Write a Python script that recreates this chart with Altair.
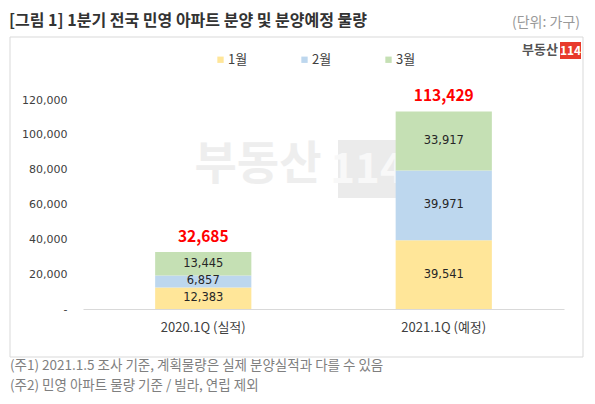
import altair as alt
import pandas as pd

FONT = "Noto Sans CJK KR"
NUM_FONT = "DejaVu Sans"

months = ["1월", "2월", "3월"]
quarters = ["2020.1Q (실적)", "2021.1Q (예정)"]
values_2020 = [12383, 6857, 13445]
values_2021 = [39541, 39971, 33917]
colors = ["#FFE699", "#BDD7EE", "#C5E0B4"]
y_ticks = [0, 20000, 40000, 60000, 80000, 100000, 120000]

title_text = "[그림 1] 1분기 전국 민영 아파트 분양 및 분양예정 물량"
unit_text = "(단위: 가구)"
notes = [
    "(주1) 2021.1.5 조사 기준, 계획물량은 실제 분양실적과 다를 수 있음",
    "(주2) 민영 아파트 물량 기준 / 빌라, 연립 제외",
]

rows = []
for q, vals in zip(quarters, [values_2020, values_2021]):
    for i, (m, v) in enumerate(zip(months, vals)):
        rows.append({"quarter": q, "month": m, "m_idx": i, "value": v})
df = pd.DataFrame(rows)

one = pd.DataFrame({"k": [0]})


def label(text, x, y, size=12, color="#333333", weight="normal", align="left", font=FONT):
    return alt.Chart(one).mark_text(
        text=text, font=font, fontSize=size, color=color, fontWeight=weight,
        align=align, baseline="middle"
    ).encode(x=alt.value(x), y=alt.value(y))


def box(x, x2, y, y2, fill, stroke=None):
    kw = {"fill": fill}
    if stroke:
        kw.update(stroke=stroke, strokeWidth=1)
    return alt.Chart(one).mark_rect(**kw).encode(
        x=alt.value(x), x2=alt.value(x2), y=alt.value(y), y2=alt.value(y2)
    )


# same axis and scale objects in every data layer, so the merged axes keep them
x_axis = alt.Axis(labelAngle=0, ticks=False, domainColor="#d9d9d9", zindex=1,
                  labelPadding=12, labelFontSize=13, labelColor="#404040",
                  labelFont=FONT)
x_scale = alt.Scale(paddingInner=0.6, paddingOuter=0.3)
y_axis = alt.Axis(values=y_ticks, grid=False, domain=False, ticks=False,
                  tickSize=0, labelPadding=16, labelFontSize=11, zindex=1,
                  labelOverlap=False, labelColor="#404040", labelFont=NUM_FONT,
                  labelExpr="datum.value == 0 ? '-' : format(datum.value, ',')")
y_scale = alt.Scale(domain=[0, 120000])


def x_enc():
    return alt.X("quarter:N", sort=quarters, title=None, scale=x_scale, axis=x_axis)


def y_enc(field, **kw):
    return alt.Y(field, title=None, scale=y_scale, axis=y_axis, **kw)


bars = alt.Chart(df).mark_bar().encode(
    x=x_enc(),
    y=y_enc("value:Q", stack="zero"),
    color=alt.Color(
        "month:N",
        scale=alt.Scale(domain=months, range=colors),
        legend=alt.Legend(
            title=None, orient="none", legendX=131, legendY=-47,
            direction="horizontal", symbolType="square", symbolSize=40,
            symbolStrokeWidth=0, labelFontSize=13, labelFont=FONT,
            labelColor="#404040", columnPadding=50, labelOffset=1,
        ),
    ),
    order=alt.Order("m_idx:Q"),
)

seg_labels = alt.Chart(df).transform_stack(
    stack="value", as_=["y0", "y1"], groupby=["quarter"],
    sort=[alt.SortField("m_idx", order="ascending")],
).transform_calculate(
    mid="(datum.y0 + datum.y1) / 2"
).mark_text(font=NUM_FONT, fontSize=11.5, color="#262626").encode(
    x=x_enc(),
    y=y_enc("mid:Q"),
    text=alt.Text("value:Q", format=","),
)

totals = alt.Chart(df).transform_aggregate(
    total="sum(value)", groupby=["quarter"]
).mark_text(font=FONT, fontSize=15.5, fontWeight="bold", color="#FF0000",
            dy=-15).encode(
    x=x_enc(),
    y=y_enc("total:Q"),
    text=alt.Text("total:Q", format=","),
)

layers = [
    box(-73, 500, -63, 257, "white", "#d9d9d9"),
    label("부동산", 175, 65, size=46, color="#eeeeee", weight="bold", align="center"),
    box(255, 314, 40, 98, "#ebebeb"),
    label("114", 284.5, 70, size=42, color="#f8f8f8", weight="bold", align="center"),
    bars,
    seg_labels,
    totals,
    label(title_text, -74, -79, size=16, color="#333333", weight="bold"),
    label(unit_text, 497, -77, size=14, color="#999999", align="right"),
    label("부동산", 475, -50, size=13, color="#555555", weight="bold", align="right"),
    box(477, 498, -58, -41, "#E8392B"),
    label("114", 487.5, -49.5, size=12, color="white", weight="bold", align="center"),
    label(notes[0], -73, 266, size=13.5, color="#7f7f7f"),
    label(notes[1], -73, 286, size=13.5, color="#7f7f7f"),
]

chart = alt.layer(*layers).properties(
    width=481,
    height=209,
    autosize=alt.AutoSizeParams(type="none"),
    padding={"left": 75, "top": 92, "right": 21, "bottom": 87},
).configure_view(stroke=None)

chart.save("out.html", embed_options={"renderer": "svg", "actions": False})
